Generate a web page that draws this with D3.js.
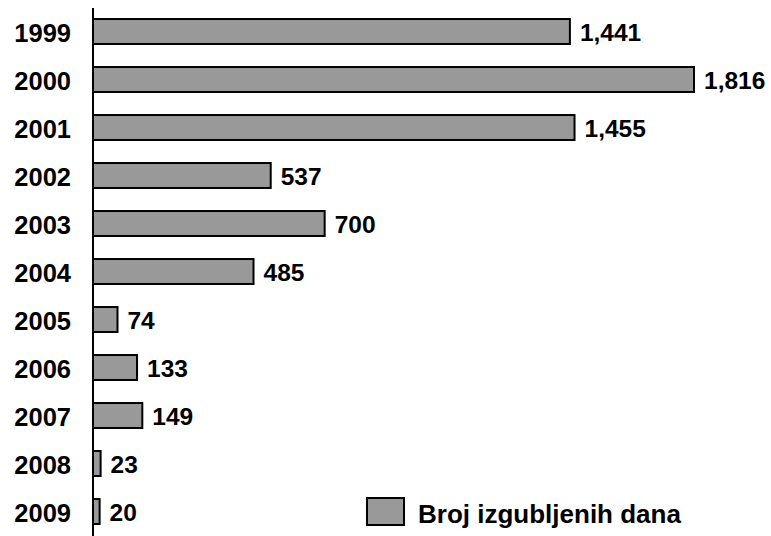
<!DOCTYPE html>
<html>
<head>
<meta charset="utf-8">
<script src="https://cdn.jsdelivr.net/npm/d3@7"></script>
<style>
  body { margin: 0; background: #fff; }
  text { font-family: "Liberation Sans", Arial, sans-serif; font-weight: bold; fill: #000; }
</style>
</head>
<body>
<div id="chart"></div>
<script>
var years = ["1999", "2000", "2001", "2002", "2003", "2004", "2005", "2006", "2007", "2008", "2009"];
var days = [1441, 1816, 1455, 537, 700, 485, 74, 133, 149, 23, 20];
var seriesName = "Broj izgubljenih dana";

var width = 771,
  height = 536;

var svg = d3
  .select("#chart")
  .append("svg")
  .attr("width", width)
  .attr("height", height);

var x = d3.scaleLinear().domain([0, 1816]).range([93, 694]);

var y = d3
  .scaleBand()
  .domain(years)
  .range([7.5, 535.5])
  .paddingInner(0.48)
  .paddingOuter(0.24);

var fmt = d3.format(",");

// bars
svg
  .selectAll(".bar")
  .data(days)
  .enter()
  .append("rect")
  .attr("class", "bar")
  .attr("x", x(0))
  .attr("y", function(d, i) {
    return y(years[i]);
  })
  .attr("width", function(d) {
    return x(d) - x(0);
  })
  .attr("height", y.bandwidth())
  .style("fill", "#999999")
  .style("stroke", "#000")
  .style("stroke-width", 2);

// value labels
svg
  .selectAll(".val")
  .data(days)
  .enter()
  .append("text")
  .attr("class", "val")
  .attr("x", function(d) {
    return x(d) + 10;
  })
  .attr("y", function(d, i) {
    return y(years[i]) + y.bandwidth() / 2;
  })
  .attr("dy", "0.37em")
  .style("font-size", "24.5px")
  .text(function(d) {
    return fmt(d);
  });

// axis with year labels
var axis = svg
  .append("g")
  .attr("transform", "translate(" + x(0) + ",0)")
  .call(d3.axisLeft(y).tickSize(0).tickPadding(22));

axis.select(".domain").attr("d", "M0,8V536").style("stroke", "#000").style("stroke-width", 2);
axis
  .selectAll("text")
  .style("font-size", "25.5px")
  .style("font-family", '"Liberation Sans", Arial, sans-serif')
  .style("font-weight", "bold")
  .attr("dy", "0.42em");

// legend
var legend = svg.append("g").attr("transform", "translate(367,498)");
legend
  .append("rect")
  .attr("width", 37)
  .attr("height", 27)
  .style("fill", "#999999")
  .style("stroke", "#000")
  .style("stroke-width", 2);
legend
  .append("text")
  .attr("x", 51)
  .attr("y", 14)
  .attr("dy", "0.43em")
  .style("font-size", "26px")
  .text(seriesName);
</script>
</body>
</html>
